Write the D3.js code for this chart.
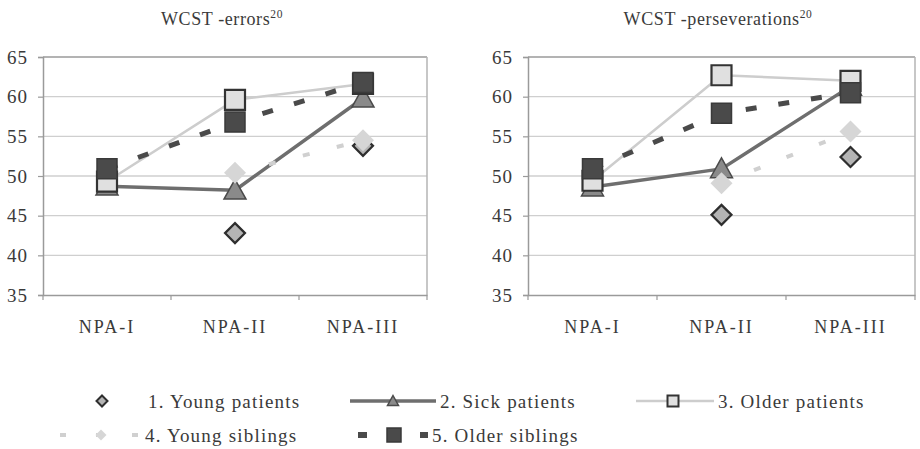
<!DOCTYPE html>
<html>
<head>
<meta charset="utf-8">
<script src="https://cdn.jsdelivr.net/npm/d3@7/dist/d3.min.js"></script>
<style>
  html, body { margin: 0; padding: 0; background: #ffffff; }
  svg { display: block; }
  text { font-family: "Liberation Serif", "Times New Roman", serif; fill: #3a3a3a; }
</style>
</head>
<body>
<svg id="chart" width="920" height="449"></svg>
<script>
// ---------- data ----------
const categories = ["NPA-I", "NPA-II", "NPA-III"];
const seriesNames = ["1. Young patients", "2. Sick patients", "3. Older patients", "4. Young siblings", "5. Older siblings"];
const yTicks = [35, 40, 45, 50, 55, 60, 65];
const panelTitles = ["WCST -errors", "WCST -perseverations"];
const titleSuperscript = "20";

// WCST-errors
const errYoungPatients  = [null, 42.8, 53.8];
const errSickPatients   = [48.7, 48.2, 59.8];
const errOlderPatients  = [49.3, 59.6, 61.6];
const errYoungSiblings  = [null, 50.4, 54.5];
const errOlderSiblings  = [50.9, 56.8, 61.8];

// WCST-perseverations
const perYoungPatients  = [null, 45.1, 52.4];
const perSickPatients   = [48.6, 50.9, 61.3];
const perOlderPatients  = [49.4, 62.7, 62.0];
const perYoungSiblings  = [null, 49.1, 55.6];
const perOlderSiblings  = [50.9, 57.9, 60.5];

// ---------- styles ----------
const styles = [
  { line: null,      lw: 0,   dash: null,    marker: "diamond",  r: 10, fill: "#b4b4b4", stroke: "#2e2e2e", sw: 2.2 },
  { line: "#6e6e6e", lw: 3.5, dash: null,    marker: "triangle", r: 11, fill: "#8a8a8a", stroke: "#4a4a4a", sw: 1.5 },
  { line: "#cdcdcd", lw: 2.5, dash: null,    marker: "square",   r: 10, fill: "#e0e0e0", stroke: "#333333", sw: 2.2 },
  { line: "#d0d0d0", lw: 4,   dash: "7,28",  marker: "diamond",  r: 11, fill: "#d6d6d6", stroke: "none",    sw: 0 },
  { line: "#4a4a4a", lw: 5,   dash: "11,22", marker: "square",   r: 10, fill: "#4a4a4a", stroke: "#3a3a3a", sw: 1.5 }
];

function markerPath(type, r) {
  if (type === "diamond") return `M0,${-r}L${r},0L0,${r}L${-r},0Z`;
  if (type === "square") return `M${-r},${-r}H${r}V${r}H${-r}Z`;
  if (type === "triangle") return `M0,${-r}L${r},${r * 0.8}H${-r}Z`;
  return "";
}

const svg = d3.select("#chart");
svg.append("rect").attr("width", 920).attr("height", 449).attr("fill", "#fff");

const panels = [
  { title: panelTitles[0], titleX: 222, left: 43, right: 427,
    series: [errYoungPatients, errSickPatients, errOlderPatients, errYoungSiblings, errOlderSiblings] },
  { title: panelTitles[1], titleX: 718, left: 528, right: 915,
    series: [perYoungPatients, perSickPatients, perOlderPatients, perYoungSiblings, perOlderSiblings] }
];

const plotTop = 57, plotBottom = 295;
const y = d3.scaleLinear().domain([35, 65]).range([plotBottom, plotTop]);

panels.forEach(p => {
  const g = svg.append("g");
  const x = d3.scaleBand().domain(categories).range([p.left, p.right]).padding(0);

  // title
  const t = g.append("text").attr("x", p.titleX).attr("y", 25)
    .attr("text-anchor", "middle").style("font-size", "18px").style("letter-spacing", "0.6px");
  t.append("tspan").text(p.title);
  t.append("tspan").text(titleSuperscript).attr("dy", -7).style("font-size", "11.5px");

  // grid lines
  g.selectAll("line.grid").data(yTicks.filter(v => v > 35 && v < 65)).enter().append("line")
    .attr("x1", p.left).attr("x2", p.right)
    .attr("y1", d => y(d)).attr("y2", d => y(d))
    .attr("stroke", "#cfcfcf").attr("stroke-width", 1.3);
  // top border
  g.append("line").attr("x1", p.left).attr("x2", p.right).attr("y1", y(65)).attr("y2", y(65))
    .attr("stroke", "#9a9a9a").attr("stroke-width", 1.5);
  // right border
  g.append("line").attr("x1", p.right).attr("x2", p.right).attr("y1", y(65)).attr("y2", y(35))
    .attr("stroke", "#b5b5b5").attr("stroke-width", 1.5);

  // y axis
  const ya = g.append("g").attr("transform", `translate(${p.left},0)`)
    .call(d3.axisLeft(y).tickValues(yTicks).tickSize(5).tickPadding(10).tickFormat(d3.format("d")));
  ya.select(".domain").attr("stroke", "#9a9a9a").attr("stroke-width", 1.5);
  ya.selectAll(".tick line").attr("stroke", "#9a9a9a").attr("stroke-width", 1.2);
  ya.selectAll(".tick text").style("font-size", "19px").style("font-family", "Liberation Serif, serif")
    .attr("fill", "#3a3a3a").style("letter-spacing", "1px");

  // x axis
  const xa = g.append("g").attr("transform", `translate(0,${plotBottom})`)
    .call(d3.axisBottom(x).tickSize(0).tickPadding(25));
  xa.select(".domain").attr("stroke", "#9a9a9a").attr("stroke-width", 1.5);
  xa.selectAll(".tick text").style("font-size", "18px").style("font-family", "Liberation Serif, serif")
    .attr("fill", "#3a3a3a").style("letter-spacing", "2px");
  // tick marks at category boundaries
  const bounds = categories.map(c => x(c)).concat([x(categories[categories.length - 1]) + x.bandwidth()]);
  g.selectAll("line.xt").data(bounds).enter().append("line")
    .attr("x1", d => d).attr("x2", d => d).attr("y1", plotBottom).attr("y2", plotBottom + 5)
    .attr("stroke", "#9a9a9a").attr("stroke-width", 1.2);

  const cx = c => x(c) + x.bandwidth() / 2;

  // series
  p.series.forEach((vals, si) => {
    const s = styles[si];
    const pts = categories.map((c, i) => ({ c, v: vals[i] }));
    if (s.line) {
      const line = d3.line().defined(d => d.v != null).x(d => cx(d.c)).y(d => y(d.v));
      g.append("path").datum(pts).attr("d", line).attr("fill", "none")
        .attr("stroke", s.line).attr("stroke-width", s.lw)
        .attr("stroke-dasharray", s.dash).attr("stroke-linejoin", "round");
    }
    g.selectAll(null).data(pts.filter(d => d.v != null)).enter().append("path")
      .attr("transform", d => `translate(${cx(d.c)},${y(d.v)})`)
      .attr("d", markerPath(s.marker, s.r))
      .attr("fill", s.fill).attr("stroke", s.stroke).attr("stroke-width", s.sw);
  });
});

// ---------- legend ----------
const legendItems = [
  { i: 0, lx0: null, lx1: null, mx: 102, tx: 148, y: 401 },
  { i: 1, lx0: 350, lx1: 436, mx: 393, tx: 440, y: 401 },
  { i: 2, lx0: 636, lx1: 714, mx: 673, tx: 718, y: 401 },
  { i: 3, lx0: 60,  lx1: 140, mx: 101, tx: 145, y: 435 },
  { i: 4, lx0: 358, lx1: 428, mx: 394, tx: 432, y: 435 }
];
const lg = svg.append("g");
legendItems.forEach(it => {
  const s = styles[it.i];
  if (s.line) {
    let dash = null;
    if (it.i === 3) dash = "6,30";
    if (it.i === 4) dash = "9,22";
    lg.append("line").attr("x1", it.lx0).attr("x2", it.lx1).attr("y1", it.y).attr("y2", it.y)
      .attr("stroke", s.line).attr("stroke-width", it.i === 4 ? 6 : (it.i === 3 ? 4 : s.lw))
      .attr("stroke-dasharray", dash);
  }
  lg.append("path").attr("transform", `translate(${it.mx},${it.y})`)
    .attr("d", markerPath(s.marker, it.i === 4 ? 7 : 5.5))
    .attr("fill", s.fill).attr("stroke", s.stroke).attr("stroke-width", Math.min(s.sw, 2));
  lg.append("text").attr("x", it.tx).attr("y", it.y + 7).style("font-size", "19px")
    .style("letter-spacing", "1.2px").text(seriesNames[it.i]);
});
</script>
</body>
</html>
